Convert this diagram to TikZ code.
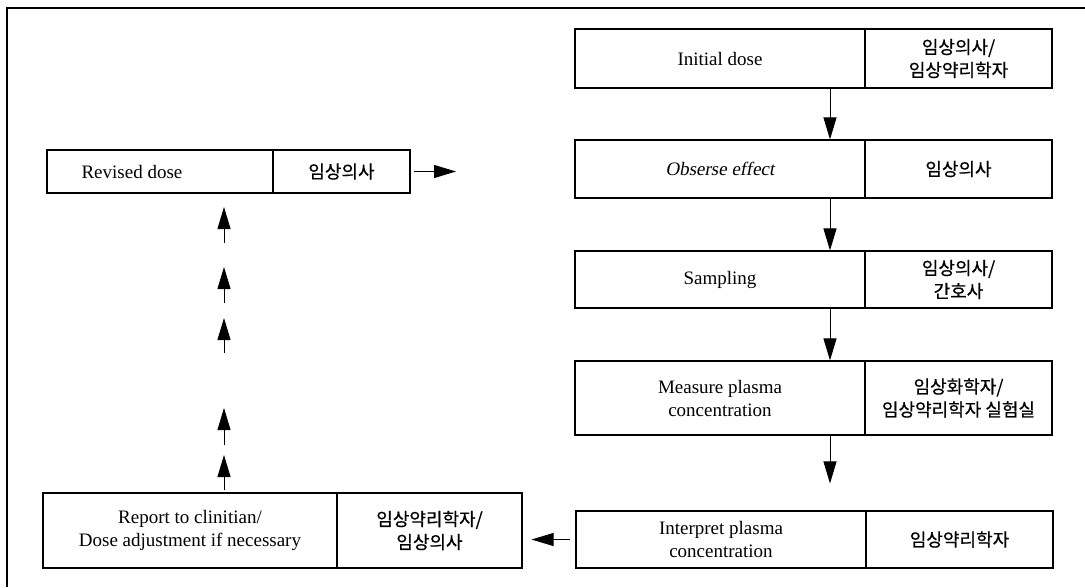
\documentclass[tikz,border=0pt]{standalone}
\usepackage{fontspec}
\setmainfont{Liberation Serif}
\newfontfamily\kr[FakeBold=0.6]{Noto Sans CJK KR}
\newfontfamily\slantfont[FakeSlant=0.18]{Liberation Serif}
\usetikzlibrary{arrows.meta}

\tikzset{
  cell/.style={draw, line width=1.1pt, inner sep=0pt, align=center,
    font=\fontsize{19}{23}\selectfont},
  krcell/.style={cell, font=\kr\fontsize{18}{23}\selectfont},
  darr/.style={line width=1pt, -{Triangle[length=22pt,width=13pt]}},
}

\begin{document}
\begin{tikzpicture}[x=1pt, y=-1pt]
        \useasboundingbox (0,0) rectangle (1085,587);
        \draw[line width=1.1pt] (7,587) -- (7,8) -- (1085,8);

        % right column
        \node[cell, minimum width=290pt, minimum height=59pt] (init) at (720,58.5) {Initial dose};
        \node[krcell, minimum width=187pt, minimum height=59pt] (initr) at (958.5,58.5) {임상의사/\\임상약리학자};
        \node[cell, minimum width=290pt, minimum height=58pt] (obs) at (720,169) {\slantfont Obserse effect};
        \node[krcell, minimum width=187pt, minimum height=58pt] (obsr) at (958.5,169) {임상의사};
        \node[cell, minimum width=290pt, minimum height=57pt] (samp) at (720,279.5) {Sampling};
        \node[krcell, minimum width=187pt, minimum height=57pt] (sampr) at (958.5,279.5) {임상의사/\\간호사};
        \node[cell, minimum width=290pt, minimum height=74pt] (meas) at (720,398) {Measure plasma\\concentration};
        \node[krcell, minimum width=187pt, minimum height=74pt] (measr) at (958.5,398) {임상화학자/\\임상약리학자 실험실};
        \node[cell, minimum width=290pt, minimum height=57pt] (interp) at (721,539.5) {Interpret plasma\\concentration};
        \node[krcell, minimum width=187pt, minimum height=57pt] (interpr) at (959.5,539.5) {임상약리학자};

        % left column
        \node[cell, minimum width=294pt, minimum height=75pt] (report) at (190,530.5) {Report to clinitian/\\Dose adjustment if necessary};
        \node[krcell, minimum width=185pt, minimum height=75pt] (reportr) at (429.5,530.5) {임상약리학자/\\임상의사};
        \node[cell, minimum width=226pt, minimum height=43pt] (revised) at (160,171.5) {};
        \node[anchor=west, font=\fontsize{19}{23}\selectfont] (revisedt) at (78,171.5) {Revised dose};
        \node[krcell, minimum width=137pt, minimum height=43pt] (revisedr) at (341.5,171.5) {임상의사};

        \coordinate (ax) at (830,0);
        \coordinate (revout) at (456,171.5);

        \draw[darr] (init.south -| ax) -- (obs.north -| ax);
        \draw[darr] (obs.south -| ax) -- (samp.north -| ax);
        \draw[darr] (samp.south -| ax) -- (meas.north -| ax);
        \draw[darr, shorten >=27pt] (meas.south -| ax) -- (interp.north -| ax);
        \draw[darr, shorten <=5pt, shorten >=9pt] (interp.west) -- (interp.west -| reportr.east);
        \draw[darr, shorten <=3pt] (revisedr.east) -- (revout);

        % broken upward line
        \foreach \ya/\yb [count=\i] in {490/455, 445/408, 353/318, 303/267, 243/207} {
            \coordinate (u\i a) at (224,\ya);
            \coordinate (u\i b) at (224,\yb);
            \draw[darr] (u\i a) -- (u\i b);
        }

    \end{tikzpicture}
\end{document}
